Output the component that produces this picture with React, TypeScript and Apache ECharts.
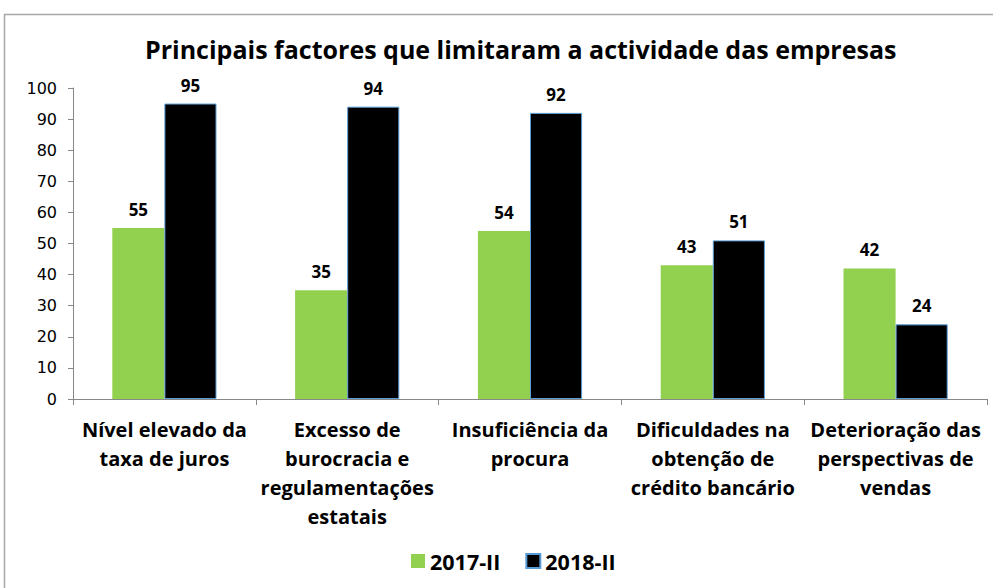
import React, { useEffect, useRef } from "react";
import * as echarts from "echarts";

const categories = [
  "Nível elevado da\ntaxa de juros",
  "Excesso de\nburocracia e\nregulamentações\nestatais",
  "Insuficiência da\nprocura",
  "Dificuldades na\nobtenção de\ncrédito bancário",
  "Deterioração das\nperspectivas de\nvendas",
];
const series2017 = [55, 35, 54, 43, 42];
const series2018 = [95, 94, 92, 51, 24];
const seriesNames = ["2017-II", "2018-II"];
const titleText = "Principais factores que limitaram a actividade das empresas";

const FONT = "'Open Sans', sans-serif";

export default function App() {
  const ref = useRef<HTMLDivElement>(null);
  useEffect(() => {
    if (!ref.current) return;
    const chart = echarts.init(ref.current, undefined, { renderer: "svg" });
    chart.setOption({
      animation: false,
      backgroundColor: "#ffffff",
      title: {
        text: titleText,
        left: 140,
        top: 31,
        textStyle: { fontFamily: FONT, fontWeight: "bold", fontSize: 25, color: "#000" },
      },
      graphic: [
        {
          type: "rect",
          shape: { x: 4.5, y: 14.5, width: 1000, height: 600 },
          style: { fill: "none", stroke: "#a6a6a6", lineWidth: 1.5 },
          silent: true,
        },
      ],
      legend: {
        data: seriesNames,
        bottom: 11,
        left: 406,
        itemWidth: 14,
        itemHeight: 14,
        itemGap: 25,
        icon: "rect",
        textStyle: { fontFamily: FONT, fontWeight: "bold", fontSize: 21.5, color: "#000" },
      },
      grid: { left: 73, right: 6, top: 88, bottom: 189, containLabel: false },
      xAxis: {
        type: "category",
        data: categories,
        axisLine: { lineStyle: { color: "#888", width: 1 } },
        axisTick: { show: true, length: 6, lineStyle: { color: "#888" } },
        axisLabel: {
          interval: 0,
          margin: 16,
          fontFamily: FONT,
          fontWeight: "bold",
          fontSize: 20,
          lineHeight: 29,
          color: "#000",
        },
      },
      yAxis: {
        type: "value",
        min: 0,
        max: 100,
        interval: 10,
        splitLine: { show: false },
        axisLine: { show: true, lineStyle: { color: "#888", width: 1 } },
        axisTick: { show: true, length: 5, lineStyle: { color: "#888" } },
        axisLabel: { fontFamily: "'DejaVu Sans', Verdana, sans-serif", fontSize: 16, color: "#000", margin: 16 },
      },
      series: [
        {
          name: seriesNames[0],
          type: "bar",
          data: series2017,
          barGap: "0%",
          barCategoryGap: "43%",
          itemStyle: { color: "#92d050", borderColor: "#92d050", borderWidth: 0 },
          label: {
            show: true,
            position: "top",
            distance: 10,
            fontFamily: FONT,
            fontWeight: "bold",
            fontSize: 17,
            color: "#000",
          },
        },
        {
          name: seriesNames[1],
          type: "bar",
          data: series2018,
          barGap: "0%",
          barCategoryGap: "43%",
          itemStyle: { color: "#000000", borderColor: "#5b9bd5", borderWidth: 1 },
          label: {
            show: true,
            position: "top",
            distance: 10,
            fontFamily: FONT,
            fontWeight: "bold",
            fontSize: 17,
            color: "#000",
          },
        },
      ],
    });
    return () => chart.dispose();
  }, []);
  return <div ref={ref} style={{ width: 993, height: 588, position: "absolute", left: 0, top: 0 }} />;
}
